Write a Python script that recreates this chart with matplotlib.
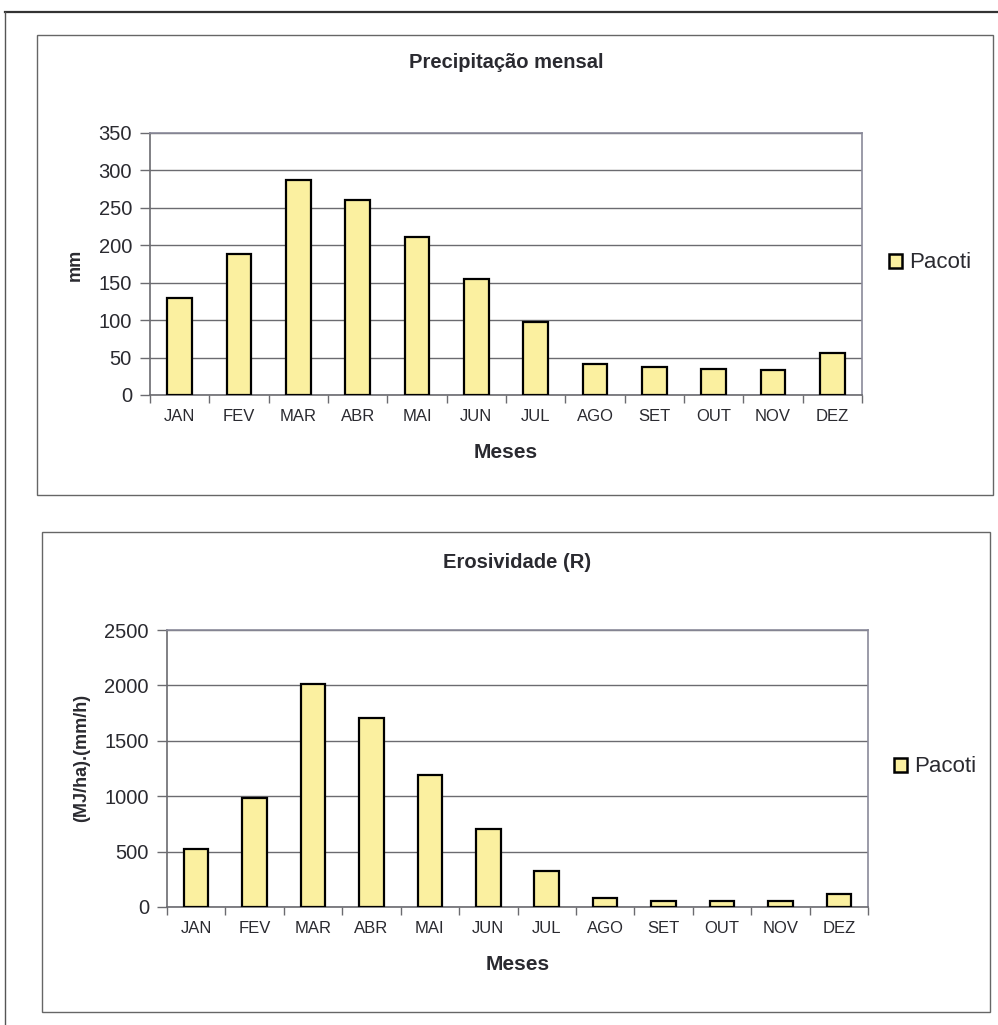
import matplotlib.pyplot as plt
from matplotlib.patches import Rectangle
from matplotlib.lines import Line2D

plt.rcParams['font.family'] = ['Liberation Sans', 'DejaVu Sans']

# monthly data for Pacoti
meses = ['JAN', 'FEV', 'MAR', 'ABR', 'MAI', 'JUN', 'JUL', 'AGO', 'SET', 'OUT', 'NOV', 'DEZ']
precipitacao = [130, 188, 287, 261, 211, 155, 98, 42, 37, 35, 33, 56]
erosividade = [521, 988, 2012, 1708, 1190, 705, 325, 80, 57, 57, 52, 117]

bar_color = '#FBF0A0'
grid_color = '#6b6b70'
frame_color = '#8a8a9a'
text_color = '#2a2a30'

W, H = 998, 1025
fig = plt.figure(figsize=(W / 100, H / 100), dpi=100)


def px_box(x0, y0, x1, y1):
    # pixel box (top-left origin) -> figure fraction [left, bottom, width, height]
    return [x0 / W, 1 - y1 / H, (x1 - x0) / W, (y1 - y0) / H]


# outer page frame
fig.add_artist(Line2D([5 / W, 1], [1 - 12 / H, 1 - 12 / H], transform=fig.transFigure,
                      color='#333333', lw=1.6))
fig.add_artist(Line2D([5 / W, 5 / W], [0, 1 - 12 / H], transform=fig.transFigure,
                      color='#555555', lw=1.0))

# chart panels
for box in [(37, 35, 993, 495), (42, 532, 990, 1012)]:
    l, b, w, h = px_box(*box)
    fig.add_artist(Rectangle((l, b), w, h, transform=fig.transFigure, fill=False,
                             edgecolor='#666666', lw=1.0))


def draw_chart(axbox, values, ymax, step, title, title_y, ylabel, ylabel_xy, legend_xy):
    ax = fig.add_axes(px_box(*axbox))
    x = range(len(meses))
    ax.bar(x, values, width=0.42, color=bar_color, edgecolor='black', linewidth=1.6,
           zorder=3, label='Pacoti')
    ax.set_xlim(-0.5, len(meses) - 0.5)
    ax.set_ylim(0, ymax)
    ax.set_yticks(range(0, ymax + 1, step))
    ax.yaxis.grid(True, color=grid_color, lw=1.0, zorder=0)
    ax.set_xticks(list(x))
    ax.set_xticklabels(meses, fontsize=12, color=text_color)
    ax.tick_params(axis='x', which='major', length=0, pad=10)
    ax.set_xticks([i - 0.5 for i in range(len(meses) + 1)], minor=True)
    ax.tick_params(axis='x', which='minor', length=6, color=grid_color, width=1.0)
    ax.tick_params(axis='y', length=7, color=grid_color, width=1.0, labelsize=14.5,
                   labelcolor=text_color, pad=6)
    for s in ax.spines.values():
        s.set_color(frame_color)
        s.set_linewidth(1.2)
    ax.spines['left'].set_color(grid_color)
    ax.spines['bottom'].set_color(grid_color)

    cx = (axbox[0] + axbox[2]) / 2 / W
    fig.text(cx, 1 - title_y / H, title, ha='center', va='center', fontsize=14.5,
             fontweight='bold', color=text_color)
    fig.text(ylabel_xy[0] / W, 1 - ylabel_xy[1] / H, ylabel, rotation=90,
             ha='center', va='center', fontsize=13, fontweight='bold', color=text_color)
    fig.text(cx, 1 - (axbox[3] + 58) / H, 'Meses', ha='center', va='center',
             fontsize=15, fontweight='bold', color=text_color)

    handle = Rectangle((0, 0), 1, 1, facecolor=bar_color, edgecolor='black', lw=1.8)
    fig.legend([handle], ['Pacoti'], loc='center left',
               bbox_to_anchor=(legend_xy[0] / W, 1 - legend_xy[1] / H),
               frameon=False, fontsize=16, handlelength=0.6, handleheight=0.6,
               handletextpad=0.3, borderpad=0, borderaxespad=0, labelcolor=text_color)
    return ax


draw_chart((150, 133, 862, 395), precipitacao, 350, 50, 'Precipitação mensal', 63,
           'mm', (75, 265), (889, 263))
draw_chart((167, 630, 868, 907), erosividade, 2500, 500, 'Erosividade (R)', 562,
           '(MJ/ha).(mm/h)', (82, 758), (894, 767))

fig.savefig('out.png', dpi=100)
